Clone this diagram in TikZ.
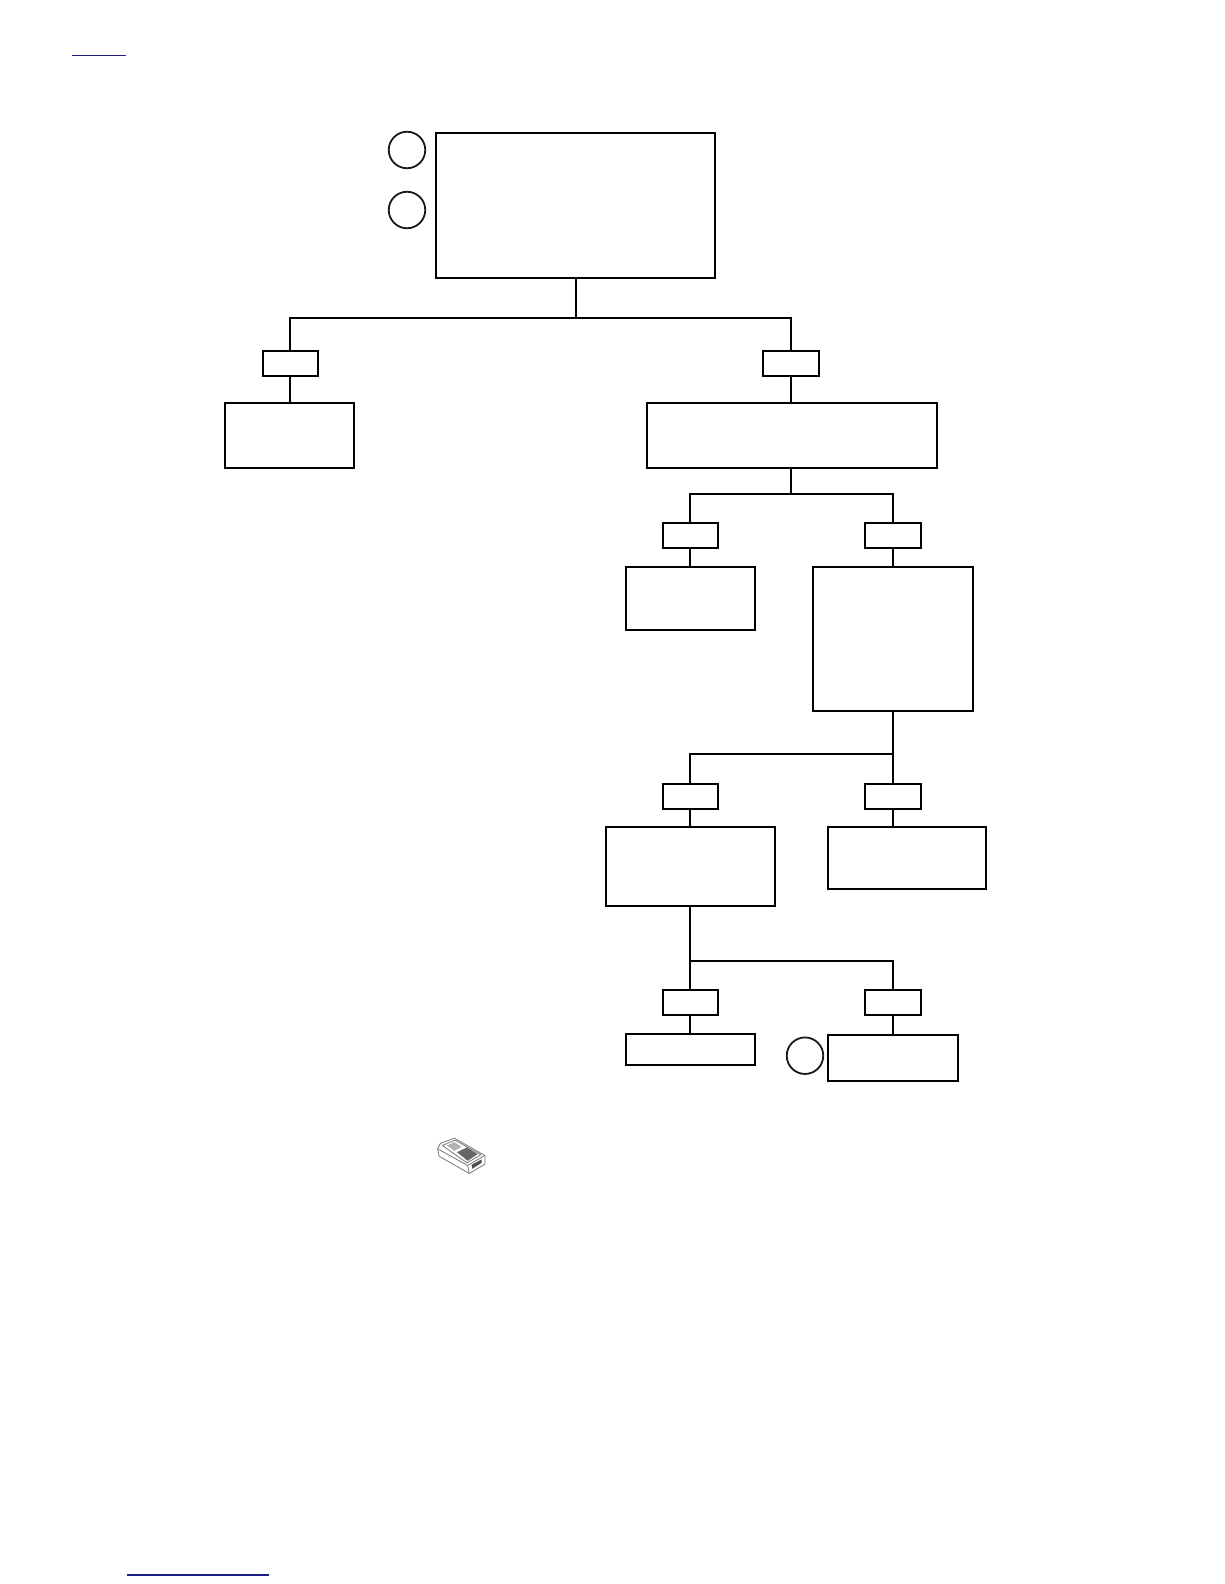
\documentclass[tikz,border=0pt]{standalone}
\usepackage{xcolor}
\usetikzlibrary{shapes,positioning,calc}
\definecolor{linkblue}{RGB}{30, 30, 130}
\definecolor{devicegray}{RGB}{120, 120, 120}
\tikzset{
    panel/.style={draw=black, fill=white, line width=2.1pt, rectangle, inner sep=0pt, outer sep=0pt},
    tagbox/.style={panel, minimum width=55.5pt, minimum height=25.4pt},
    callout/.style={draw=black!90, fill=white, line width=1.8pt, circle, inner sep=0pt, outer sep=0pt, minimum size=36.5pt},
    wire/.style={draw=black, line width=2.1pt},
    linkbar/.style={draw=linkblue, line width=1.4pt}
}
\begin{document}
\begin{tikzpicture}[x=1pt, y=-1pt]
    \useasboundingbox (0,0) rectangle (1224,1584);

    % Main box and its callouts
    \node[panel, minimum width=279.3pt, minimum height=144.7pt] (main) at (575.4, 205.4) {};
    \node[callout] (calloutA) at (407, 150) {};
    \node[callout] (calloutB) at (407, 210) {};

    % First split
    \node[tagbox] (tagLeft) at (290.3, 363.6) {};
    \node[panel, minimum width=129pt, minimum height=64.6pt] (boxLeft) at (289.4, 435.3) {};
    \node[tagbox] (tagRight) at (790.8, 363.6) {};
    \node[panel, minimum width=289.8pt, minimum height=64.6pt] (boxRight) at (792.3, 435.3) {};

    % Second split
    \node[tagbox] (tagA) at (690.3, 535.5) {};
    \node[panel, minimum width=129.4pt, minimum height=63.6pt] (boxA) at (690.7, 598.4) {};
    \node[tagbox] (tagB) at (892.8, 535.5) {};
    \node[panel, minimum width=159.6pt, minimum height=144.4pt] (boxB) at (892.8, 638.8) {};

    % Third split
    \node[tagbox] (tagC) at (690.3, 796.6) {};
    \node[panel, minimum width=168.8pt, minimum height=79.2pt] (boxC) at (690.4, 866.4) {};
    \node[tagbox] (tagD) at (892.8, 796.6) {};
    \node[panel, minimum width=157.7pt, minimum height=62pt] (boxD) at (906.9, 857.8) {};

    % Fourth split
    \node[tagbox] (tagE) at (690.3, 1002.5) {};
    \node[panel, minimum width=129.3pt, minimum height=31pt] (boxE) at (690.4, 1049.5) {};
    \node[tagbox] (tagF) at (892.8, 1002.5) {};
    \node[panel, minimum width=130.3pt, minimum height=45.7pt] (boxF) at (893.2, 1057.8) {};
    \node[callout] (calloutC) at (805, 1055.7) {};

    % Bus points
    \coordinate (busOne) at (576, 318);
    \coordinate (busTwo) at (790.8, 493.8);
    \coordinate (busThree) at (892.8, 754.2);
    \coordinate (busFour) at (690.3, 961);

    % Wires
    \draw[wire] (main.south -| busOne) -- (busOne);
    \draw[wire] (tagLeft.north) |- (busOne);
    \draw[wire] (tagRight.north) |- (busOne);
    \draw[wire] (tagLeft.south) -- (tagLeft.south |- boxLeft.north);
    \draw[wire] (tagRight.south) -- (tagRight.south |- boxRight.north);

    \draw[wire] (boxRight.south -| busTwo) -- (busTwo);
    \draw[wire] (tagA.north) |- (busTwo);
    \draw[wire] (tagB.north) |- (busTwo);
    \draw[wire] (tagA.south) -- (tagA.south |- boxA.north);
    \draw[wire] (tagB.south) -- (tagB.south |- boxB.north);

    \draw[wire] (boxB.south -| busThree) -- (tagD.north);
    \draw[wire] (tagC.north) |- (busThree);
    \draw[wire] (tagC.south) -- (tagC.south |- boxC.north);
    \draw[wire] (tagD.south) -- (tagD.south |- boxD.north);

    \draw[wire] (boxC.south -| busFour) -- (tagE.north);
    \draw[wire] (tagF.north) |- (busFour);
    \draw[wire] (tagE.south) -- (tagE.south |- boxE.north);
    \draw[wire] (tagF.south) -- (tagF.south |- boxF.north);

    % Link bars
    \coordinate (barTopA) at (72, 55.3);
    \coordinate (barTopB) at (126, 55.3);
    \coordinate (barLowA) at (126.7, 1575);
    \coordinate (barLowB) at (269, 1575);
    \draw[linkbar] (barTopA) -- (barTopB);
    \draw[linkbar] (barLowA) -- (barLowB);

    % Handheld device
    \begin{scope}[shift={(421,1121.5)}, x=0.333pt, y=-0.333pt, draw=devicegray, line width=0.8pt, line join=round]
        \draw[fill=white] (50,82) -- (58,66) -- (100,50) -- (192,102) -- (192,128) -- (145,156) -- (138,152) -- (54,104) -- cycle;
        \draw (50,82) -- (140,132) -- (192,102);
        \draw (140,132) -- (145,156);
        \draw (64,72) -- (102,56) -- (180,100) -- (138,124) -- cycle;
        \fill[black!30] (78,72) -- (100,62) -- (122,76) -- (100,88) -- cycle;
        \fill[black!60] (108,92) -- (138,78) -- (170,98) -- (140,118) -- cycle;
        \fill[black!70] (152,130) -- (182,114) -- (182,124) -- (154,142) -- cycle;
    \end{scope}
\end{tikzpicture}
\end{document}
